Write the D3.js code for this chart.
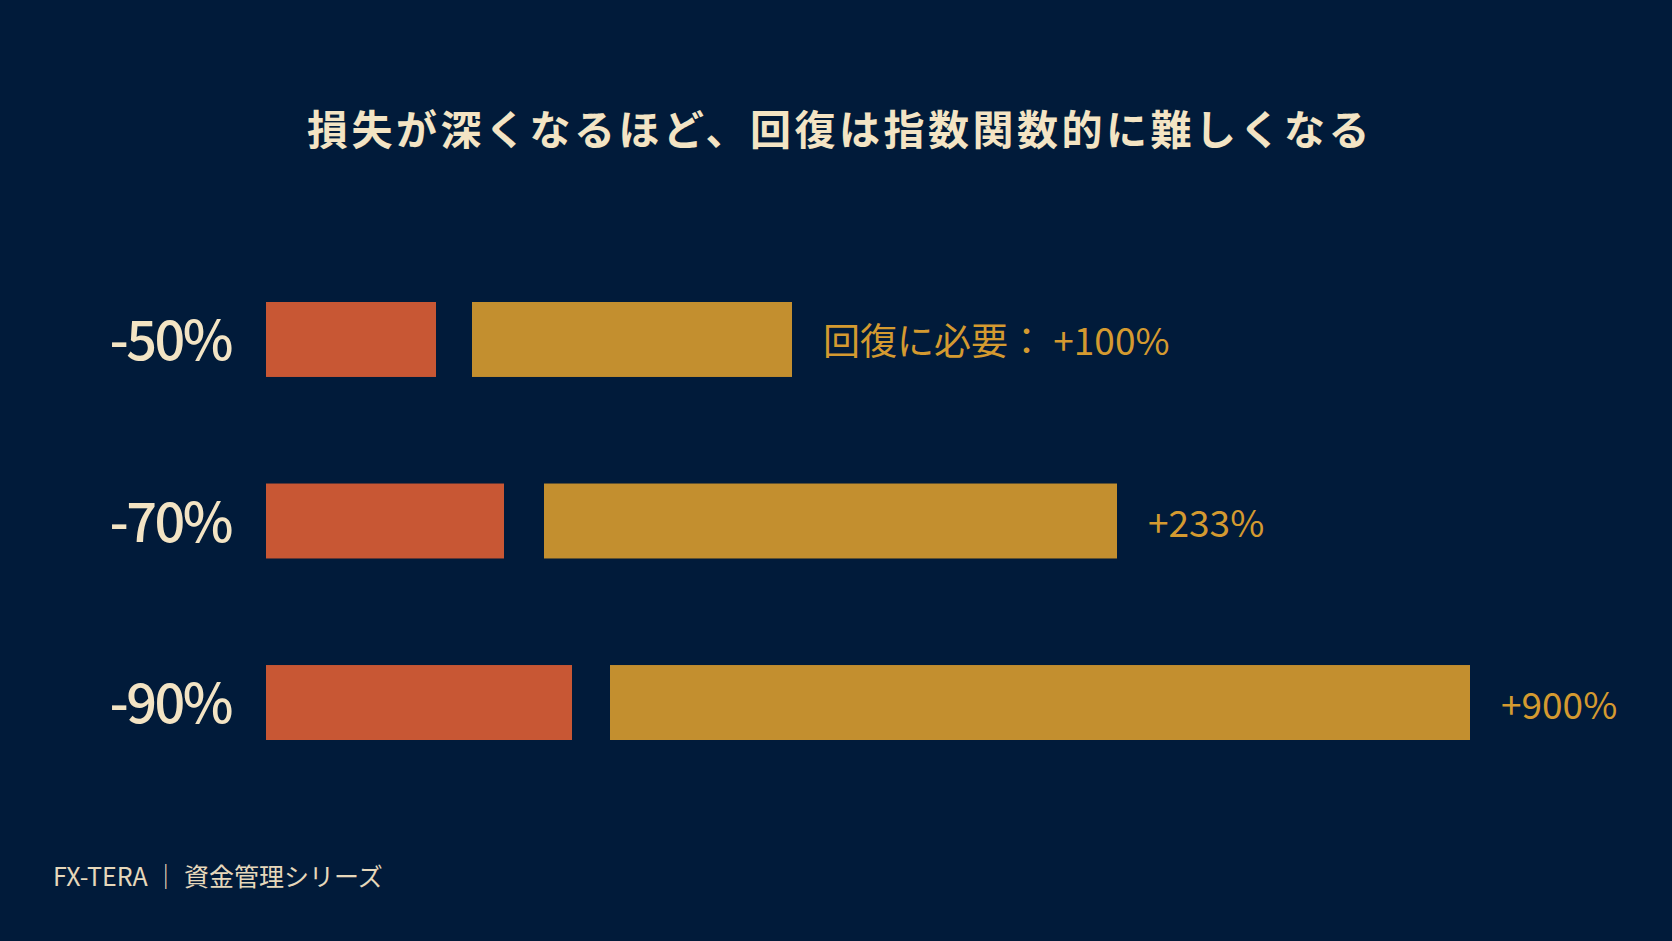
<!DOCTYPE html>
<html>
<head>
<meta charset="utf-8">
<script src="https://cdn.jsdelivr.net/npm/d3@7"></script>
<style>
  html, body { margin: 0; padding: 0; background: #011b3a; }
  svg { display: block; }
</style>
</head>
<body>
<svg id="chart" width="1672" height="941"></svg>
<script>
// ---- data ----
const titleText = "損失が深くなるほど、回復は指数関数的に難しくなる";
const rowLabels = ["-50%", "-70%", "-90%"];
const lossValues = [50, 70, 90];
const gainValues = [100, 233, 900];
const gainLabels = ["回復に必要： +100%", "+233%", "+900%"];
const footerText = "FX-TERA ｜ 資金管理シリーズ";

// ---- styles ----
const W = 1672, H = 941;
const bg = "#011b3a";
const cream = "#f3e4c4";
const red = "#c85734";
const gold = "#c38f2f";
const goldText = "#d49a30";
const jp = "'Noto Sans CJK JP', 'Noto Sans', sans-serif";

const svg = d3.select("#chart");
svg.append("rect").attr("width", W).attr("height", H).attr("fill", bg);

// scales
const y = d3.scaleBand().domain(rowLabels).range([302, 740]).paddingInner(0.587).paddingOuter(0);
const barX0 = 266;
const lossScale = d3.scaleLinear().domain([0, 100]).range([0, 340]);
// visual (compressed) length scale for recovery bars
const gainScale = d3.scaleLinear().domain([0, 100, 233, 900]).range([0, 320, 573, 860]);
const gapScale = d3.scaleOrdinal().domain(rowLabels).range([36, 40, 38]);

// title
svg.append("text")
  .attr("x", 840).attr("y", 127)
  .attr("text-anchor", "middle").attr("dominant-baseline", "central")
  .attr("font-family", jp).attr("font-weight", 700).attr("font-size", 41)
  .attr("letter-spacing", 3.5)
  .attr("fill", cream)
  .text(titleText);

const rows = rowLabels.map((l, i) => ({ label: l, loss: lossValues[i], gain: gainValues[i], gainLabel: gainLabels[i] }));
const gainStart = d => barX0 + lossScale(d.loss) + gapScale(d.label);

const g = svg.append("g");

// row labels
g.selectAll("text.row").data(rows).join("text")
  .attr("class", "row")
  .attr("x", 231)
  .attr("y", d => y(d.label) + y.bandwidth() / 2 - 3)
  .attr("text-anchor", "end").attr("dominant-baseline", "central")
  .attr("font-family", jp).attr("font-weight", 500).attr("font-size", 54)
  .attr("letter-spacing", -2.5)
  .attr("fill", cream)
  .text(d => d.label);

// loss bars
g.selectAll("rect.loss").data(rows).join("rect")
  .attr("class", "loss")
  .attr("x", barX0)
  .attr("y", d => y(d.label))
  .attr("width", d => lossScale(d.loss))
  .attr("height", y.bandwidth())
  .attr("fill", red);

// gain bars
g.selectAll("rect.gain").data(rows).join("rect")
  .attr("class", "gain")
  .attr("x", gainStart)
  .attr("y", d => y(d.label))
  .attr("width", d => gainScale(d.gain))
  .attr("height", y.bandwidth())
  .attr("fill", gold);

// gain labels
g.selectAll("text.gain").data(rows).join("text")
  .attr("class", "gain")
  .attr("x", d => gainStart(d) + gainScale(d.gain) + 31)
  .attr("y", d => y(d.label) + y.bandwidth() / 2)
  .attr("dominant-baseline", "central")
  .attr("font-family", jp).attr("font-weight", 400).attr("font-size", 37)
  .attr("fill", goldText)
  .text(d => d.gainLabel);

// footer
svg.append("text")
  .attr("x", 53).attr("y", 875)
  .attr("dominant-baseline", "central")
  .attr("font-family", jp).attr("font-weight", 400).attr("font-size", 25)
  .attr("fill", "#e6d8bb")
  .text(footerText);
</script>
</body>
</html>
